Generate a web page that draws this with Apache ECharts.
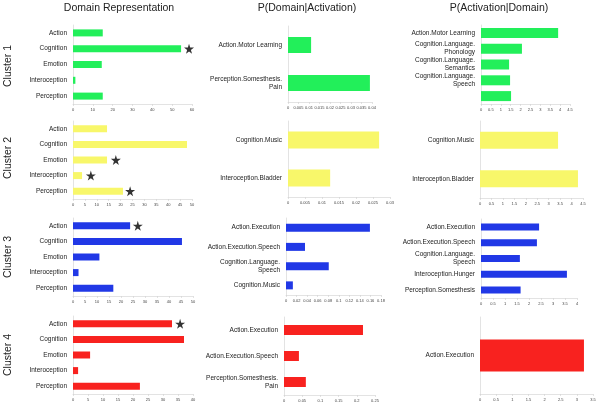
<!DOCTYPE html>
<html>
<head>
<meta charset="utf-8">
<script src="https://cdn.jsdelivr.net/npm/echarts@6/dist/echarts.min.js"></script>
<style>
  html, body { margin: 0; padding: 0; background: #fff; }
  #main { width: 600px; height: 406px; }
</style>
</head>
<body>
<div id="main"></div>
<script>
// Domain Representation (column 1)
var domains = ['Action', 'Cognition', 'Emotion', 'Interoception', 'Perception'];
var c1Domain = [15, 54.5, 14.5, 1.2, 15];
var c2Domain = [14.3, 47.9, 14.3, 3.8, 21];
var c3Domain = [23.8, 45.4, 11, 2.3, 16.8];
var c4Domain = [33, 37, 5.7, 1.7, 22.3];

// stars: [value, domain]
var c1Stars = [[58.5, 'Cognition']];
var c2Stars = [[18, 'Emotion'], [7.5, 'Interoception'], [24, 'Perception']];
var c3Stars = [[27, 'Action']];
var c4Stars = [[35.7, 'Action']];

// P(Domain|Activation) (column 2)
var c1PdaCats = ['Action.Motor Learning', 'Perception.Somesthesis.\nPain'];
var c1Pda = [0.011, 0.039];
var c2PdaCats = ['Cognition.Music', 'Interoception.Bladder'];
var c2Pda = [0.0268, 0.0124];
var c3PdaCats = ['Action.Execution', 'Action.Execution.Speech', 'Cognition.Language.\nSpeech', 'Cognition.Music'];
var c3Pda = [0.159, 0.036, 0.081, 0.013];
var c4PdaCats = ['Action.Execution', 'Action.Execution.Speech', 'Perception.Somesthesis.\nPain'];
var c4Pda = [0.217, 0.041, 0.06];

// P(Activation|Domain) (column 3)
var c1PadCats = ['Action.Motor Learning', 'Cognition.Language.\nPhonology', 'Cognition.Language.\nSemantics', 'Cognition.Language.\nSpeech', 'Perception.Somesthesis.\nPain'];
var c1Pad = [3.9, 2.07, 1.42, 1.47, 1.52];
var c2PadCats = ['Cognition.Music', 'Interoception.Bladder'];
var c2Pad = [3.41, 4.28];
var c3PadCats = ['Action.Execution', 'Action.Execution.Speech', 'Cognition.Language.\nSpeech', 'Interoception.Hunger', 'Perception.Somesthesis'];
var c3Pad = [2.42, 2.33, 1.62, 3.58, 1.65];
var c4PadCats = ['Action.Execution'];
var c4Pad = [3.22];

var colTitles = ['Domain Representation', 'P(Domain|Activation)', 'P(Activation|Domain)'];
var clusterNames = ['Cluster 1', 'Cluster 2', 'Cluster 3', 'Cluster 4'];

var green = '#22ef5a', yellow = '#f8f76a', blue = '#2138e6', red = '#f8221f';
var starPath = 'path://M50,0 L61,35 L98,35 L68,57 L79,91 L50,70 L21,91 L32,57 L2,35 L39,35 Z';
var font = 'Liberation Sans, Arial, sans-serif';

var grids = [], xAxes = [], yAxes = [], series = [];

function addPanel(box, cats, vals, max, interval, color, barW, stars) {
    var i = grids.length;
    grids.push(box);
    xAxes.push({
        gridIndex: i, type: 'value', min: 0, max: max, interval: interval,
        splitLine: { show: false },
        axisLine: { show: true, lineStyle: { color: '#d0d0d0', width: 0.6 } },
        axisTick: { show: true, length: 2, lineStyle: { color: '#d0d0d0', width: 0.6 } },
        axisLabel: { fontSize: 4, color: '#444', margin: 4, fontFamily: font }
    });
    yAxes.push({
        gridIndex: i, type: 'category', data: cats, inverse: true,
        axisLine: { show: true, lineStyle: { color: '#d0d0d0', width: 0.6 } },
        axisTick: { show: false },
        axisLabel: { fontSize: 6.5, color: '#222', margin: 6, fontFamily: font, lineHeight: 8, align: 'right' }
    });
    series.push({
        type: 'bar', xAxisIndex: i, yAxisIndex: i, data: vals, barWidth: barW,
        itemStyle: { color: color }, silent: true
    });
    if (stars) {
        series.push({
            type: 'scatter', xAxisIndex: i, yAxisIndex: i, data: stars,
            symbol: starPath, symbolSize: 10, itemStyle: { color: '#000' }, silent: true
        });
    }
}

// column 1
addPanel({ left: 73, top: 25, width: 119, height: 79 }, domains, c1Domain, 60, 10, green, 7, c1Stars);
addPanel({ left: 73, top: 121, width: 119, height: 78 }, domains, c2Domain, 50, 5, yellow, 7, c2Stars);
addPanel({ left: 73, top: 218, width: 120, height: 78 }, domains, c3Domain, 50, 5, blue, 7, c3Stars);
addPanel({ left: 73, top: 316, width: 120, height: 78 }, domains, c4Domain, 40, 5, red, 7, c4Stars);
// column 2
addPanel({ left: 288, top: 26, width: 84, height: 76 }, c1PdaCats, c1Pda, 0.04, 0.005, green, 16);
addPanel({ left: 288, top: 121, width: 102, height: 76 }, c2PdaCats, c2Pda, 0.03, 0.005, yellow, 17);
addPanel({ left: 286, top: 218, width: 95, height: 77 }, c3PdaCats, c3Pda, 0.18, 0.02, blue, 8);
addPanel({ left: 284, top: 317, width: 91, height: 78 }, c4PdaCats, c4Pda, 0.25, 0.05, red, 10);
// column 3
addPanel({ left: 481, top: 25, width: 89, height: 79 }, c1PadCats, c1Pad, 4.5, 0.5, green, 10);
addPanel({ left: 480, top: 121, width: 103, height: 77 }, c2PadCats, c2Pad, 4.5, 0.5, yellow, 17);
addPanel({ left: 481, top: 219, width: 96, height: 79 }, c3PadCats, c3Pad, 4, 0.5, blue, 7);
addPanel({ left: 480, top: 317, width: 113, height: 77 }, c4PadCats, c4Pad, 3.5, 0.5, red, 32);

var titleX = [119, 307, 499];
var clusterY = [66, 158, 257, 355];
var graphics = [];
for (var t = 0; t < colTitles.length; t++) {
    graphics.push({
        type: 'text', x: titleX[t], y: 8,
        style: { text: colTitles[t], fontSize: 10.5, fill: '#222', font: '10.5px ' + font, align: 'center', verticalAlign: 'middle' }
    });
}
for (var c = 0; c < clusterNames.length; c++) {
    graphics.push({
        type: 'text', x: 8, y: clusterY[c], rotation: Math.PI / 2,
        style: { text: clusterNames[c], font: '10.5px ' + font, fill: '#222', align: 'center', verticalAlign: 'middle' }
    });
}

var chart = echarts.init(document.getElementById('main'));
chart.setOption({
    animation: false,
    backgroundColor: '#fff',
    grid: grids,
    xAxis: xAxes,
    yAxis: yAxes,
    series: series,
    graphic: graphics
});
</script>
</body>
</html>
